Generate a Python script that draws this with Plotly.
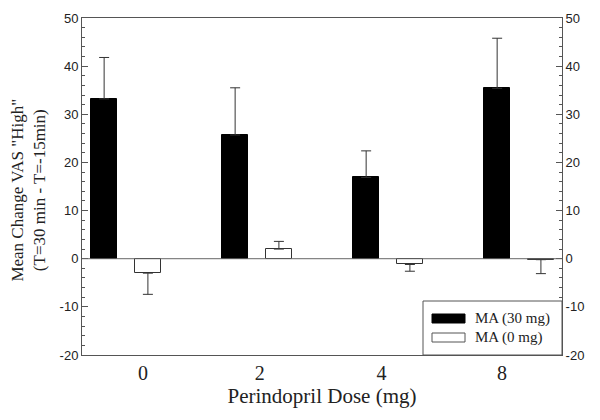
import plotly.graph_objects as go

doses = ["0", "2", "4", "8"]
ma30 = [33.2, 25.7, 16.9, 35.4]
ma30_err = [8.6, 9.8, 5.5, 10.4]
ma0 = [-3.0, 2.0, -1.2, -0.2]
ma0_err_plus = [0, 1.6, 0, 0]
ma0_err_minus = [4.4, 0, 1.4, 2.9]
yticks = [-20, -10, 0, 10, 20, 30, 40, 50]
ytick_text = ["-20", "-10", "0", "10", "20", "30", "40", "50"]

xpos = list(range(len(doses)))
label_pos = [i + d for i, d in zip(xpos, [0.13, 0.02, -0.05, -0.13])]

serif = "Liberation Serif"
sans = "Liberation Sans"
axcol = "#555555"

fig = go.Figure()
fig.add_trace(go.Bar(
    x=xpos, y=ma30, name="MA (30 mg)", width=0.2, offset=-0.267,
    marker=dict(color="black", line=dict(color="black", width=1)),
    error_y=dict(type="data", symmetric=False, array=ma30_err,
                 arrayminus=[0] * 4, color="#333333", thickness=1, width=5),
    showlegend=False,
))
fig.add_trace(go.Bar(
    x=xpos, y=ma0, name="MA (0 mg)", width=0.2, offset=0.067,
    marker=dict(color="white", line=dict(color="#333333", width=1)),
    error_y=dict(type="data", symmetric=False, array=ma0_err_plus,
                 arrayminus=ma0_err_minus, color="#333333", thickness=1, width=5),
    showlegend=False,
))
# invisible trace to activate right axis
fig.add_trace(go.Scatter(x=[xpos[0]], y=[yticks[0]], yaxis="y2",
                         mode="markers", marker=dict(opacity=0),
                         showlegend=False, hoverinfo="skip"))

yax = dict(range=[-20, 50], tickvals=yticks, ticktext=ytick_text,
           ticks="inside", ticklen=6,
           tickcolor=axcol, showline=True, linecolor=axcol, linewidth=1,
           showgrid=False, tickfont=dict(family=sans, size=13, color="#222"),
           minor=dict(dtick=2, ticks="inside", ticklen=3, tickcolor=axcol),
           zeroline=False)

fig.update_layout(
    width=600, height=420,
    margin=dict(l=82, r=38, t=18, b=65),
    plot_bgcolor="white", paper_bgcolor="white",
    xaxis=dict(range=[-0.336, 3.328], tickvals=label_pos, ticktext=doses,
               ticks="", showline=True, mirror=True, linecolor=axcol,
               linewidth=1, showgrid=False, zeroline=False,
               tickfont=dict(family=serif, size=20, color="#222"),
               title=dict(text="Perindopril Dose (mg)",
                          font=dict(family=serif, size=21, color="#222"),
                          standoff=4)),
    yaxis=dict(**yax, side="left"),
    yaxis2=dict(**yax, side="right", overlaying="y"),
    bargap=0,
)

# zero line
fig.add_shape(type="line", xref="paper", yref="y", x0=0, x1=1, y0=0, y1=0,
              line=dict(color="#666666", width=1))

fig.add_annotation(text='Mean Change VAS "High"<br>(T=30 min - T=-15min)',
                   xref="paper", yref="paper", x=-0.111, y=0.49,
                   textangle=-90, showarrow=False, xanchor="center",
                   yanchor="middle",
                   font=dict(family=serif, size=17, color="#222"))

# legend box
def py(v):
    return (355 - v) / 337
def px(v):
    return (v - 82) / 480
fig.add_shape(type="rect", xref="paper", yref="paper", x0=px(423), x1=1.0,
              y0=0.0, y1=py(301), line=dict(color=axcol, width=1),
              fillcolor="white", layer="above")
fig.add_shape(type="rect", xref="paper", yref="paper", x0=px(432), x1=px(465),
              y0=py(323), y1=py(314), line=dict(color="black", width=1),
              fillcolor="black", layer="above")
fig.add_shape(type="rect", xref="paper", yref="paper", x0=px(432), x1=px(465),
              y0=py(342), y1=py(333), line=dict(color="#555", width=1),
              fillcolor="white", layer="above")
for name, yy in [("MA (30 mg)", 318.5), ("MA (0 mg)", 337.5)]:
    fig.add_annotation(text=name, xref="paper", yref="paper", x=px(473),
                       y=py(yy), xanchor="left", yanchor="middle",
                       showarrow=False,
                       font=dict(family=serif, size=15, color="#222"))

fig.write_html("out.html", config={"displayModeBar": False},
               post_script="document.body.style.margin='0';")
